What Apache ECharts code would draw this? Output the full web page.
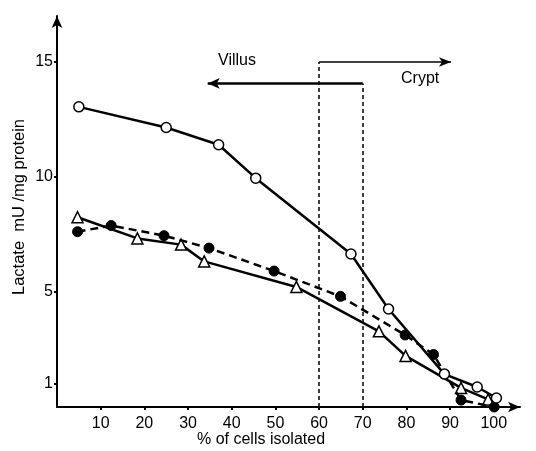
<!DOCTYPE html>
<html><head><meta charset="utf-8">
<script src="https://cdn.jsdelivr.net/npm/echarts@6/dist/echarts.min.js"></script>
<style>html,body{margin:0;padding:0;background:#fff}#c{width:536px;height:451px}</style>
</head><body><div id="c"></div>
<script>
// Data
const openCircleX = [5, 25, 37, 45.5, 67.3, 75.9, 88.7, 96.2, 100.6];
const openCircleY = [13.05, 12.15, 11.4, 9.95, 6.65, 4.26, 1.43, 0.87, 0.39];
const filledX = [4.7, 12.4, 24.5, 34.8, 49.7, 64.9, 79.7, 86.2, 92.5, 100.1];
const filledY = [7.62, 7.89, 7.45, 6.91, 5.91, 4.81, 3.13, 2.28, 0.30, 0.0];
const triX = [4.7, 18.4, 28.4, 33.7, 54.8, 73.7, 79.8, 92.5, 98.7];
const triY = [8.25, 7.33, 7.06, 6.33, 5.22, 3.29, 2.22, 0.83, 0.33];
const xTicks = [10, 20, 30, 40, 50, 60, 70, 80, 90, 100];
const yTicks = [1, 5, 10, 15];
// annotation brackets (value coords)
const cryptBracket = { x: 60, top: 15, arrowTo: 90.2 };
const villusBracket = { x: 70, top: 14.07, arrowTo: 34.5 };

const pair = (xs, ys) => xs.map((x, i) => [x, ys[i]]);
const FONT = 'Liberation Sans';
const chart = echarts.init(document.getElementById('c'));
chart.setOption({
  animation: false,
  backgroundColor: '#fff',
  grid: { left: 57, right: 16, top: 16, bottom: 44 },
  xAxis: {
    type: 'value', min: 0, max: 106,
    axisLine: { lineStyle: { color: '#000', width: 2 }, symbol: ['none', 'arrow'], symbolSize: [8, 12] },
    axisTick: { customValues: xTicks, length: 3, lineStyle: { color: '#000', width: 2 } },
    axisLabel: { customValues: xTicks, color: '#000', fontSize: 16, fontFamily: FONT, margin: 9 },
    splitLine: { show: false }
  },
  yAxis: {
    type: 'value', min: 0, max: 17,
    axisLine: { show: true, lineStyle: { color: '#000', width: 2 }, symbol: ['none', 'arrow'], symbolSize: [8, 12] },
    axisTick: { show: true, customValues: yTicks, length: 3, lineStyle: { color: '#000', width: 2 } },
    axisLabel: { customValues: yTicks, color: '#000', fontSize: 16, fontFamily: FONT, margin: 4 },
    splitLine: { show: false }
  },
  graphic: [
    { type: 'text', left: 218, top: 53, style: { text: 'Villus', fontSize: 16, fontFamily: FONT, fill: '#000' } },
    { type: 'text', left: 401, top: 71, style: { text: 'Crypt', fontSize: 16, fontFamily: FONT, fill: '#000' } },
    { type: 'text', left: 197, top: 432, style: { text: '% of cells isolated', fontSize: 16, fontFamily: FONT, fill: '#000' } },
    { type: 'text', x: 19, y: 207, rotation: Math.PI / 2, style: { text: 'Lactate  mU /mg protein', fontSize: 16.5, fontFamily: FONT, fill: '#000', align: 'center', verticalAlign: 'middle' } }
  ],
  series: [
    {
      type: 'line', data: pair(triX, triY), clip: false,
      lineStyle: { color: '#000', width: 2.5 },
      symbol: 'triangle', symbolSize: 11,
      itemStyle: { color: '#fff', borderColor: '#000', borderWidth: 1.5 }, z: 3
    },
    {
      type: 'line', data: pair(filledX, filledY), clip: false,
      lineStyle: { color: '#000', width: 2.5, type: [8, 5] },
      symbol: 'circle', symbolSize: 10,
      itemStyle: { color: '#000', borderColor: '#000', borderWidth: 1 }, z: 4
    },
    {
      type: 'line', data: pair(openCircleX, openCircleY), clip: false,
      lineStyle: { color: '#000', width: 2.5 },
      symbol: 'circle', symbolSize: 10,
      itemStyle: { color: '#fff', borderColor: '#000', borderWidth: 1.5 }, z: 5
    },
    {
      type: 'line', data: [], silent: true,
      markLine: {
        silent: true, animation: false, label: { show: false },
        symbol: ['none', 'none'],
        data: [
          [{ coord: [cryptBracket.x, 0], lineStyle: { type: [4, 3], width: 1.5, color: '#000' } }, { coord: [cryptBracket.x, cryptBracket.top] }],
          [{ coord: [villusBracket.x, 0], lineStyle: { type: [4, 3], width: 1.5, color: '#000' } }, { coord: [villusBracket.x, villusBracket.top] }],
          [{ coord: [cryptBracket.x, cryptBracket.top], lineStyle: { type: 'solid', width: 1.5, color: '#000' }, symbol: 'none' }, { coord: [cryptBracket.arrowTo, cryptBracket.top], symbol: 'arrow', symbolSize: [7, 12] }],
          [{ coord: [villusBracket.x, villusBracket.top], lineStyle: { type: 'solid', width: 2.5, color: '#000' }, symbol: 'none' }, { coord: [villusBracket.arrowTo, villusBracket.top], symbol: 'arrow', symbolSize: [8, 12] }]
        ]
      }
    }
  ]
});
</script></body></html>
